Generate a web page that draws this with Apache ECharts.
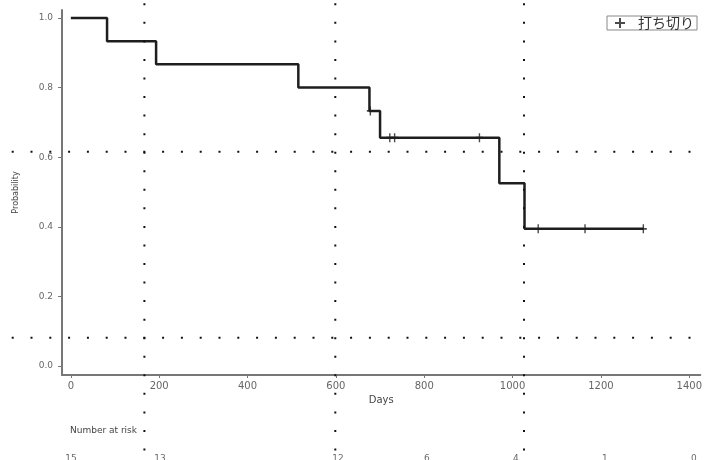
<!DOCTYPE html>
<html>
<head>
<meta charset="utf-8">
<script src="https://cdn.jsdelivr.net/npm/echarts@6/dist/echarts.min.js"></script>
<style>html,body{margin:0;padding:0;background:#fff;}#c{width:705px;height:460px;}</style>
</head>
<body>
<div id="c"></div>
<script>
// Kaplan-Meier step curve (time in days, survival probability)
const days = [0, 82, 193, 515, 676, 700, 970, 1027, 1297];
const survival = [1.0, 0.933, 0.867, 0.8, 0.733, 0.656, 0.525, 0.394, 0.394];
// censored observations
const censorDays = [678, 722, 733, 925, 1058, 1164, 1296];
const censorSurv = [0.733, 0.656, 0.656, 0.656, 0.394, 0.394, 0.394];
// axes
const xTicks = [0, 200, 400, 600, 800, 1000, 1200, 1400];
const yTicks = [0, 0.2, 0.4, 0.6, 0.8, 1.0];
// number at risk
const riskDays = [0, 200, 600, 800, 1000, 1200, 1400];
const riskCounts = [15, 13, 12, 6, 4, 1, 0];

const censorLabel = '打ち切り';
const plusPath = 'path://M4,0h2v10h-2z M0,4h10v2h-10z';
const latin = 'DejaVu Sans, Liberation Sans, sans-serif';

const chart = echarts.init(document.getElementById('c'), null, {renderer: 'canvas'});

function dotted(x1, y1, x2, y2, gap) {
  return {type: 'line', z: 50, silent: true,
    shape: {x1, y1, x2, y2},
    style: {stroke: '#111', lineWidth: 2, lineDash: [2, gap]}};
}

chart.setOption({
  animation: false,
  backgroundColor: '#fff',
  grid: [
    {left: 62, right: 0, top: 10, bottom: 85},
    {left: 62, right: 0, top: 457, height: 8}
  ],
  legend: {
    right: 8, top: 16,
    orient: 'horizontal',
    data: [{name: censorLabel, icon: plusPath}],
    itemWidth: 10, itemHeight: 10,
    padding: [0, 3, 0, 8],
    borderColor: '#888', borderWidth: 1,
    textStyle: {fontFamily: 'Noto Sans CJK JP', fontSize: 14, color: '#333', lineHeight: 13, padding: [0, 0, 0, 8]}
  },
  xAxis: [
    {
      type: 'value', gridIndex: 0, min: -20, max: 1425,
      name: 'Days', nameLocation: 'middle', nameGap: 20,
      nameTextStyle: {fontFamily: latin, fontSize: 10, color: '#444'},
      axisLine: {show: true, onZero: false, lineStyle: {color: '#777', width: 2}},
      axisTick: {show: true, length: 3, customValues: xTicks, lineStyle: {color: '#777'}},
      axisLabel: {customValues: xTicks, margin: 6, fontFamily: latin, fontSize: 10, color: '#666',
        formatter: v => String(Math.round(v))},
      splitLine: {show: false}
    },
    {type: 'value', gridIndex: 1, min: -20, max: 1425, show: false}
  ],
  yAxis: [
    {
      type: 'value', gridIndex: 0, min: -0.026, max: 1.023,
      name: 'Probability', nameLocation: 'middle', nameGap: 42, nameRotate: 90,
      nameTextStyle: {fontFamily: latin, fontSize: 8, color: '#444'},
      axisLine: {show: true, onZero: false, lineStyle: {color: '#777', width: 2}},
      axisTick: {show: true, length: 4, customValues: yTicks, lineStyle: {color: '#777'}},
      axisLabel: {customValues: yTicks, margin: 9, fontFamily: latin, fontSize: 9, color: '#666',
        formatter: v => Number(v).toFixed(1)},
      splitLine: {show: false}
    },
    {type: 'value', gridIndex: 1, min: 0, max: 1, show: false}
  ],
  series: [
    {
      name: 'KM', type: 'line', step: 'end', xAxisIndex: 0, yAxisIndex: 0,
      data: days.map((d, i) => [d, survival[i]]),
      showSymbol: false, symbol: 'none',
      lineStyle: {color: '#1e1e1e', width: 2.5}
    },
    {
      name: censorLabel, type: 'scatter', xAxisIndex: 0, yAxisIndex: 0,
      data: censorDays.map((d, i) => [d, censorSurv[i]]),
      symbol: plusPath, symbolSize: [7, 9],
      itemStyle: {color: '#1e1e1e'}, z: 5
    },
    {
      name: 'risk', type: 'scatter', xAxisIndex: 1, yAxisIndex: 1,
      data: riskDays.map((d, i) => [d, 0.5, riskCounts[i]]),
      symbolSize: 0, clip: false,
      label: {show: true, position: 'inside', formatter: p => String(p.value[2]),
        fontFamily: latin, fontSize: 9, color: '#444'}
    }
  ],
  graphic: [
    {type: 'text', left: 70, top: 426, silent: true,
      style: {text: 'Number at risk', fontFamily: latin, fontSize: 9, fill: '#444'}},
    dotted(11.7, 151.7, 705, 151.7, 16.8),
    dotted(11.7, 337.7, 705, 337.7, 16.8),
    dotted(144.4, 3.3, 144.4, 460, 16.55),
    dotted(335.3, 3.3, 335.3, 460, 16.55),
    dotted(524, 3.3, 524, 460, 16.55)
  ]
});
</script>
</body>
</html>
